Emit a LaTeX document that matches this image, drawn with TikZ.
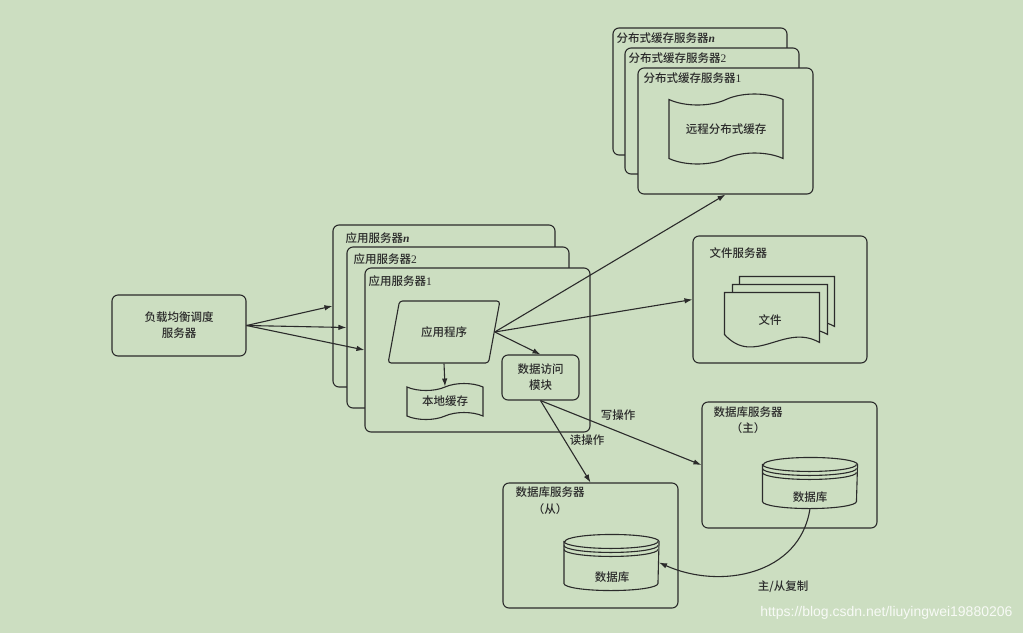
\documentclass[tikz,border=0pt]{standalone}
\usepackage{fontspec}
\setmainfont{Noto Sans CJK SC}[UprightFont=* Medium]
\newfontfamily\latinrm{Liberation Serif}
\newfontfamily\latinsf{Liberation Sans}
\usetikzlibrary{arrows.meta,shapes.geometric,shapes.symbols}
\definecolor{bg}{HTML}{CCDEC1}
\definecolor{ln}{HTML}{2B2B2B}

\begin{document}
\begin{tikzpicture}[x=1pt,y=-1pt,line width=1.1pt,
  every node/.style={font=\fontsize{11.5}{16}\selectfont,text=ln},
  box/.style={draw=ln,fill=bg,rounded corners=6pt,inner sep=0pt},
  lbl/.style={anchor=west,inner sep=0pt},
  arr/.style={draw=ln,-{Latex[length=8pt,width=5.5pt]}}]
\path[use as bounding box,fill=bg] (0,0) rectangle (1023,633);

\node[box,minimum width=134pt,minimum height=61pt,align=center] (lb) at (179,325.5) {负载均衡调度\\服务器};

\node[box,minimum width=174pt,minimum height=127pt] (dcn) at (700,91.5) {};
\node[lbl] (dcnl) at (616,38) {分布式缓存服务器{\latinrm\bfseries\itshape n}};
\node[box,minimum width=174pt,minimum height=126pt] (dc2) at (712,111) {};
\node[lbl] (dc2l) at (628,58) {分布式缓存服务器{\latinrm 2}};
\node[box,minimum width=175pt,minimum height=126pt] (dc1) at (725.5,131) {};
\node[lbl] (dc1l) at (643,78) {分布式缓存服务器{\latinrm 1}};
\node[tape,draw=ln,fill=bg,tape bend height=11pt,minimum width=114pt,minimum height=70pt] (rc) at (726,129) {远程分布式缓存};

\node[box,minimum width=222pt,minimum height=162pt] (appn) at (444,306) {};
\node[lbl] (appnl) at (345,238) {应用服务器{\latinrm\bfseries\itshape n}};
\node[box,minimum width=222pt,minimum height=161pt] (app2) at (458,327.5) {};
\node[lbl] (app2l) at (353,259) {应用服务器{\latinrm 2}};
\node[box,minimum width=225pt,minimum height=164pt] (app1) at (477.5,350) {};
\node[lbl] (app1l) at (368,281) {应用服务器{\latinrm 1}};
\node[trapezium,trapezium left angle=69,trapezium right angle=111,trapezium stretches=true,draw=ln,fill=bg,rounded corners=3pt,minimum width=112pt,minimum height=62pt] (app) at (444,332) {应用程序};
\node[tape,draw=ln,fill=bg,tape bend height=7pt,minimum width=76pt,minimum height=36pt] (lc) at (445,401.5) {本地缓存};
\node[box,minimum width=77pt,minimum height=45pt,align=center] (dao) at (540.5,377.5) {数据访问\\模块};

\node[box,minimum width=174pt,minimum height=127pt] (fs) at (780,299.5) {};
\node[lbl] (fsl) at (709,253) {文件服务器};
\node[inner sep=0pt,minimum width=95pt,minimum height=50pt] (doc) at (772.5,318) {};
\foreach \dx/\dy in {15/-16,8/-8,0/0}
  \draw[draw=ln,fill=bg,shift={(doc.north west)},shift={(\dx,\dy)}] (0,0) -- (95,0) -- (95,50) .. controls (60,30) and (30,75) .. (0,42) -- cycle;
\node (doct) at (770,320) {文件};

\node[box,minimum width=175pt,minimum height=126pt] (dbms) at (789.5,465) {};
\node[lbl,anchor=north west,align=left] (dbmsl) at (713,406) {数据库服务器\\\hspace*{1.5em}（主）};
\node[box,minimum width=175pt,minimum height=125pt] (dbss) at (590.5,545.5) {};
\node[lbl,anchor=north west,align=left,font=\fontsize{11.5}{17}\selectfont] (dbssl) at (515,486) {数据库服务器\\\hspace*{1.5em}（从）};
\node[inner sep=0pt,minimum width=94pt,minimum height=50pt] (dbm) at (810,483) {};
\node[inner sep=0pt,minimum width=94pt,minimum height=55pt] (dbs) at (611.5,562.5) {};
\foreach \db in {dbm,dbs} {
  \draw[draw=ln,fill=bg] ([yshift=-7pt]\db.north west) -- ([yshift=7pt]\db.south west)
    arc[start angle=180,end angle=360,x radius=47pt,y radius=7pt] -- ([yshift=-7pt]\db.north east)
    arc[start angle=0,end angle=180,x radius=47pt,y radius=7pt] -- cycle;
  \draw[draw=ln] ([yshift=-7pt]\db.north west) arc[start angle=180,end angle=360,x radius=47pt,y radius=7pt];
  \draw[draw=ln] ([yshift=-11pt]\db.north west) arc[start angle=180,end angle=360,x radius=47pt,y radius=7pt];
  \draw[draw=ln] ([yshift=-15pt]\db.north west) arc[start angle=180,end angle=360,x radius=47pt,y radius=7pt];
}
\node (dbmt) at (810,497) {数据库};
\node (dbst) at (612,577) {数据库};

\draw[arr] (lb.east) -- (appn.west);
\draw[arr] (lb.east) -- (app2.west);
\draw[arr] (lb.east) -- (app1.west);
\draw[arr] (app.south) -- (lc.north);
\draw[arr] (app.east) -- (dao.north);
\draw[arr] (app.east) -- (dc1.south);
\draw[arr] (app.east) -- (fs.west);
\draw[arr] (dao.south) -- (dbms.west);
\draw[arr] (dao.south) -- (dbss.north);
\draw[arr] (dbm.south) .. controls (800,575) and (720,590) .. (dbs.east);
\node (wr) at (618,415) {写操作};
\node (rd) at (587,440) {读操作};
\node (rep) at (783,587) {主/从复制};

\node[anchor=east,inner sep=0pt,text=white,opacity=.85,font=\latinsf\fontsize{14}{16}\selectfont] (wm) at (1013,613) {https://blog.csdn.net/liuyingwei19880206};
\end{tikzpicture}
\end{document}
